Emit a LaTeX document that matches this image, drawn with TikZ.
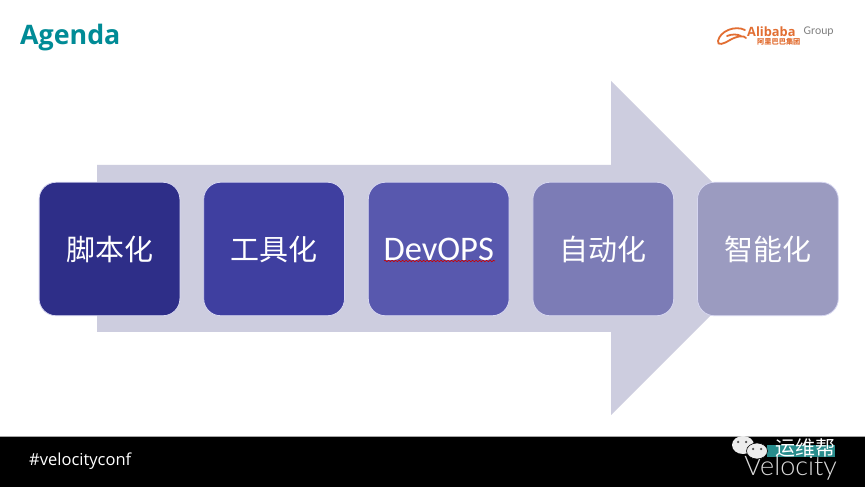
\documentclass[tikz,border=0pt]{standalone}
\usepackage{fontspec}
\setmainfont{Carlito}
\newfontfamily\cjkfont{Noto Sans CJK SC}
\newfontfamily\titlefont{Open Sans}
\newfontfamily\velofont{Lato Light}
\usetikzlibrary{positioning}
\usetikzlibrary{shapes.geometric}
\usetikzlibrary{decorations.pathmorphing}
\definecolor{agTeal}{RGB}{0, 139, 150}
\definecolor{agArrow}{RGB}{205, 205, 223}
\definecolor{agOne}{RGB}{46, 46, 136}
\definecolor{agTwo}{RGB}{63, 63, 160}
\definecolor{agThree}{RGB}{88, 88, 174}
\definecolor{agFour}{RGB}{124, 124, 182}
\definecolor{agFive}{RGB}{155, 155, 192}
\definecolor{agBorder}{RGB}{214, 214, 240}
\definecolor{agOrange}{RGB}{226, 110, 50}
\definecolor{agBand}{RGB}{40, 140, 140}

\begin{document}
\begin{tikzpicture} [
    x=1pt, y=1pt,
    stage/.style = { rectangle, rounded corners=17pt, draw=agBorder, line width=0.8pt,
                     text=white, minimum width=140.8pt, minimum height=133.5pt,
                     inner sep=0pt, font=\cjkfont\fontsize{29}{31}\selectfont},
    bubble/.style = { ellipse, fill=white!85!gray, inner sep=0pt},
    eye/.style    = { circle, fill=black!70, minimum size=2.5pt, inner sep=0pt},
  ]
  \useasboundingbox (0,0) rectangle (865,487);

%Hintergrund und Fusszeile
  \fill[white] (0,0) rectangle (865,487);
  \fill[black] (0,0) rectangle (865,50);
  \fill[black!35] (0,50) rectangle (865,51);

%grosser Pfeil
  \fill[agArrow] (97,322) -- (611,322) -- (611,406) -- (778,239)
     -- (611,72) -- (611,155) -- (97,155) -- cycle;

%Titel
  \node [anchor=west, inner sep=0pt, text=agTeal, font=\titlefont\bfseries\fontsize{26.8}{29}\selectfont]
     (title) at (20,449.5) {Agenda};

%Stufen
  \node [stage, fill=agOne] (s1) at (109.5,238) {脚本化};
  \node [stage, fill=agTwo, right=23pt of s1] (s2) {工具化};
  \node [stage, fill=agThree, right=23pt of s2, font=\fontsize{34.5}{36}\selectfont] (s3) {DevOPS};
  \node [stage, fill=agFour, right=23pt of s3] (s4) {自动化};
  \node [stage, fill=agFive, right=23pt of s4] (s5) {智能化};

%rote Wellenlinie unter DevOPS
  \coordinate (w1) at (384,226);
  \coordinate (w2) at (495,226);
  \draw [red!80!black, line width=0.6pt, decorate,
         decoration={snake, amplitude=0.7pt, segment length=3.5pt}] (w1) -- (w2);

%Logo oben rechts
  \draw [agOrange, line width=1.8pt, line cap=round]
     (745,457) .. controls (735,462) and (720,456) .. (718,446)
     .. controls (717,441) and (724,443) .. (730,447)
     .. controls (737,451) and (744,452) .. (746,449)
     (727,451) .. controls (732,453) and (737,453) .. (741,451);
  \node [anchor=west, inner sep=0pt, text=agOrange, font=\titlefont\bfseries\fontsize{12.8}{13}\selectfont]
     (alibaba) at (747,455) {Alibaba};
  \node [anchor=west, inner sep=0pt, text=black!50, font=\fontsize{11.8}{13}\selectfont]
     (group) at (803.5,455) {Group};
  \node [anchor=west, inner sep=0pt, text=agOrange, font=\cjkfont\bfseries\fontsize{7.2}{8}\selectfont]
     (alicn) at (757,445.5) {阿里巴巴集团};

%Fusszeile Text
  \node [anchor=west, inner sep=0pt, text=white, font=\titlefont\fontsize{16.5}{18}\selectfont]
     (hash) at (29,25.5) {\#velocityconf};

%Wasserzeichen
  \fill [agBand] (767,30) rectangle (835,42);
  \node [anchor=east, inner sep=0pt, text=white, font=\cjkfont\fontsize{20}{22}\selectfont]
     (wm) at (836,39.5) {运维帮};
  \node [anchor=base east, inner sep=0pt, text=white!85!black, font=\velofont\fontsize{27}{29}\selectfont]
     (velocity) at (837,11) {Velocity};
  \node [bubble, minimum width=22pt, minimum height=18pt] (b1) at (743,42) {};
  \node [bubble, minimum width=21pt, minimum height=16pt, draw=black, line width=0.6pt] (b2) at (757,36) {};
  \node [eye] (e1) at (738,45) {};
  \node [eye] (e2) at (746,45) {};
  \node [eye] (e3) at (753,38) {};
  \node [eye] (e4) at (761,38) {};
\end{tikzpicture}
\end{document}
